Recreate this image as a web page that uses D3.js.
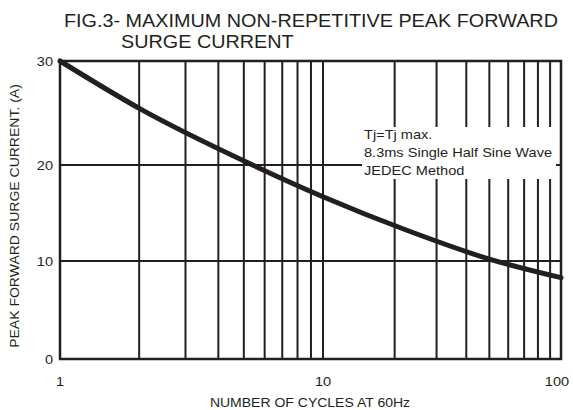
<!DOCTYPE html>
<html>
<head>
<meta charset="utf-8">
<script src="https://cdn.jsdelivr.net/npm/d3@7"></script>
<style>
  body { margin: 0; background: #fff; }
  svg text { font-family: "Liberation Sans", Arial, sans-serif; fill: #231f20; }
</style>
</head>
<body>
<div id="vis"></div>
<script>
// curve: cycles vs peak surge current (A)
var cycles  = [1, 2.05, 5.4, 10, 22.5, 50, 100];
var current = [30, 25.3, 20, 16.7, 13.2, 10.2, 8.3];

// grid and tick values
var xGrid = [2, 3, 4, 5, 6, 7, 8, 9, 10, 20, 30, 40, 50, 60, 70, 80, 90];
var xTicks = [1, 10, 100];
var yTicks = [0, 10, 20, 30];
var noteLines = ["Tj=Tj max.", "8.3ms Single Half Sine Wave", "JEDEC Method"];

var width = 573, height = 410;
var ink = "#231f20";

var svg = d3.select("#vis").append("svg")
    .attr("width", width)
    .attr("height", height);

// the source font is a bit wider than Arial, stretch text to match
function widen(sel, k) {
  sel.each(function() {
    var len = this.getComputedTextLength();
    d3.select(this)
      .attr("textLength", len * k)
      .attr("lengthAdjust", "spacingAndGlyphs");
  });
}

// log x, the drawing is a little stretched in the first decade
var x = d3.scaleLog().domain([1, 10, 100]).range([60, 323, 561]);
var y = d3.scaleLinear().domain([0, 10, 20, 30]).range([359, 261, 165, 61]);

// vertical grid
svg.append("g").selectAll("line")
  .data(xGrid)
  .enter().append("line")
    .attr("x1", function(d) { return x(d); })
    .attr("x2", function(d) { return x(d); })
    .attr("y1", y(0))
    .attr("y2", y(30))
    .attr("stroke", ink)
    .attr("stroke-width", 2);

// horizontal grid
svg.append("g").selectAll("line")
  .data(yTicks.slice(1, 3))
  .enter().append("line")
    .attr("x1", x(1))
    .attr("x2", x(100))
    .attr("y1", function(d) { return y(d); })
    .attr("y2", function(d) { return y(d); })
    .attr("stroke", ink)
    .attr("stroke-width", 2);

// frame
svg.append("rect")
  .attr("x", x(1))
  .attr("y", y(30))
  .attr("width", x(100) - x(1))
  .attr("height", y(0) - y(30))
  .attr("fill", "none")
  .attr("stroke", ink)
  .attr("stroke-width", 2.5);

// note box knocks out the grid
svg.append("rect")
  .attr("x", 362)
  .attr("y", 127)
  .attr("width", 194)
  .attr("height", 52)
  .attr("fill", "#fff");

// the curve
var line = d3.line()
  .x(function(d, i) { return x(cycles[i]); })
  .y(function(d) { return y(d); })
  .curve(d3.curveMonotoneX);

svg.append("path")
  .datum(current)
  .attr("d", line)
  .attr("fill", "none")
  .attr("stroke", ink)
  .attr("stroke-width", 5)
  .attr("stroke-linecap", "round");

// y tick labels
svg.append("g").selectAll("text")
  .data(yTicks)
  .enter().append("text")
    .attr("x", 53)
    .attr("y", function(d) { return y(d); })
    .attr("dy", "0.35em")
    .attr("text-anchor", "end")
    .attr("font-size", "13px")
    .text(function(d) { return d; })
    .call(widen, 1.12);

// x tick labels
svg.append("g").selectAll("text")
  .data(xTicks)
  .enter().append("text")
    .attr("x", function(d) { return x(d) - (d === 100 ? 4 : 0); })
    .attr("y", 386)
    .attr("text-anchor", "middle")
    .attr("font-size", "13px")
    .text(function(d) { return d; })
    .call(widen, 1.12);

// axis titles
svg.append("text")
  .attr("x", 310)
  .attr("y", 407)
  .attr("text-anchor", "middle")
  .attr("font-size", "12.5px")
  .text("NUMBER OF CYCLES AT 60Hz")
  .call(widen, 1.12);

svg.append("text")
  .attr("transform", "translate(19,216) rotate(-90)")
  .attr("text-anchor", "middle")
  .attr("font-size", "12.5px")
  .text("PEAK FORWARD SURGE CURRENT. (A)")
  .call(widen, 1.12);

// figure title, second line hangs under "MAXIMUM"
svg.append("text")
  .attr("x", 64)
  .attr("y", 27)
  .attr("font-size", "18px")
  .text("FIG.3- MAXIMUM NON-REPETITIVE PEAK FORWARD")
  .call(widen, 1.1);

svg.append("text")
  .attr("x", 121)
  .attr("y", 48)
  .attr("font-size", "18px")
  .text("SURGE CURRENT")
  .call(widen, 1.1);

// note text
svg.append("g").selectAll("text")
  .data(noteLines)
  .enter().append("text")
    .attr("x", 364)
    .attr("y", function(d, i) { return 139 + i * 18; })
    .attr("font-size", "13px")
    .text(function(d) { return d; })
    .call(widen, 1.12);
</script>
</body>
</html>
